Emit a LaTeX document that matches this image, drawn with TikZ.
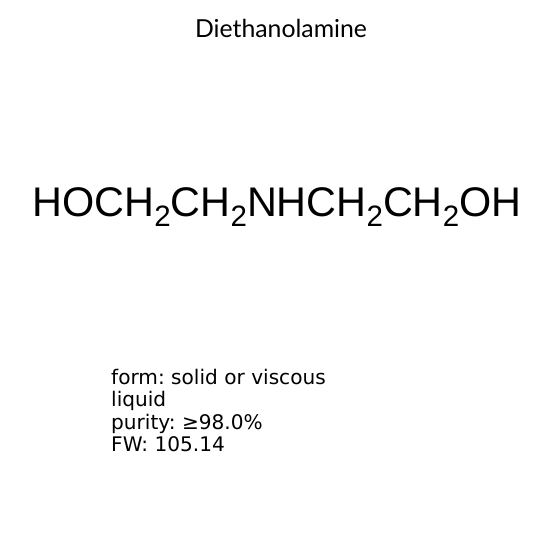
\documentclass[tikz,border=0pt]{standalone}
\usepackage{fontspec}
\setmainfont{Liberation Sans}
\newfontfamily\titlefont{Lato}
\newfontfamily\infofont{DejaVu Sans}
\usetikzlibrary{positioning}
\frenchspacing

\newcommand\chsub[1]{\raisebox{-0.24em}{\fontsize{29.5}{30}\selectfont #1}}

\tikzset{
  title/.style={font=\titlefont\fontsize{24.8}{28}\selectfont, inner sep=0pt},
  formula/.style={font=\fontsize{41.4}{48}\selectfont, inner sep=0pt},
  info/.style={font=\infofont\fontsize{20.1}{22.3}\selectfont, align=left, inner sep=0pt, anchor=north west}
}

\begin{document}
\begin{tikzpicture}[x=1pt,y=-1pt]

    % Page frame
    \useasboundingbox[fill=white] (0,0) rectangle (553,553);

    % Name of the compound
    \node[title] (name) at (281,28) {Diethanolamine};

    % Condensed formula
    \node[formula] (formula) at (277,207) {HOCH\chsub{2}CH\chsub{2}NHCH\chsub{2}CH\chsub{2}OH};

    % Properties
    \node[info] (props) at (111,369) {form: solid or viscous\\liquid\\purity: ≥98.0\%\\FW: 105.14};

\end{tikzpicture}
\end{document}
